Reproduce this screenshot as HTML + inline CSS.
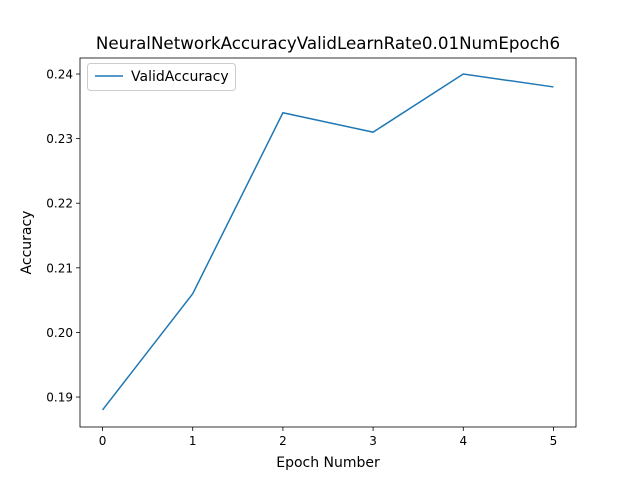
<!DOCTYPE html>
<html><head><meta charset="utf-8"><style>
body{margin:0;background:#fff;}
svg{display:block;font-family:"DejaVu Sans","Liberation Sans",sans-serif;}
</style></head><body>
<svg id="chart" width="640" height="480">
<rect width="640" height="480" fill="#fff"/>
<text x="328" y="49" font-size="16.7" text-anchor="middle">NeuralNetworkAccuracyValidLearnRate0.01NumEpoch6</text>
<g id="axes"></g>
</svg>
<script>
const epochs=[0,1,2,3,4,5];
const accuracy=[0.188,0.206,0.234,0.231,0.240,0.238];
const yTicks=[0.19,0.20,0.21,0.22,0.23,0.24];
const xTicks=[0,1,2,3,4,5];
const L=80,R=576,T=58,B=427;
const xMin=-0.25,xMax=5.25,yMin=0.18536,yMax=0.24248;
const xs=v=>L+(v-xMin)/(xMax-xMin)*(R-L);
const ys=v=>B-(v-yMin)/(yMax-yMin)*(B-T);
const NS="http://www.w3.org/2000/svg";
const g=document.getElementById('axes');
function mk(t,a){const e=document.createElementNS(NS,t);for(const k in a)e.setAttribute(k,a[k]);g.appendChild(e);return e;}
xTicks.forEach(v=>{
 const t=mk('line',{x1:xs(v),x2:xs(v),y1:B,y2:B+4,stroke:'#000','stroke-width':0.8});
 
 
 const l=mk('text',{x:xs(v),y:B+18,'font-size':12,'text-anchor':'middle'});l.textContent=v;
 
 
});
yTicks.forEach(v=>{
 const t=mk('line',{x1:L-4,x2:L,y1:ys(v),y2:ys(v),stroke:'#000','stroke-width':0.8});
 
 
 const l=mk('text',{x:L-7,y:ys(v)+4.5,'font-size':12,'text-anchor':'end'});l.textContent=v.toFixed(2);
 
 
});
const line=mk('polyline',{points:epochs.map((e,i)=>xs(e)+','+ys(accuracy[i])).join(' '),fill:'none',stroke:'#1f77b4','stroke-width':1.5});


const frame=mk('rect',{x:L,y:T,width:R-L,height:B-T,fill:'none',stroke:'#000','stroke-width':0.8});


const xl=mk('text',{x:(L+R)/2,y:467,'font-size':14,'text-anchor':'middle'});xl.textContent='Epoch Number';


const yl=mk('text',{x:31,y:(T+B)/2,'font-size':14,'text-anchor':'middle',transform:'rotate(-90 31 '+(T+B)/2+')'});yl.textContent='Accuracy';


const lg=mk('rect',{x:87.5,y:63.5,width:148,height:27,rx:3,fill:'#fff',stroke:'#ccc'});


const ll=mk('line',{x1:95,x2:123,y1:76,y2:76,stroke:'#1f77b4','stroke-width':1.5});


const lt=mk('text',{x:131,y:81,'font-size':14});lt.textContent='ValidAccuracy';


</script>
</body></html>
